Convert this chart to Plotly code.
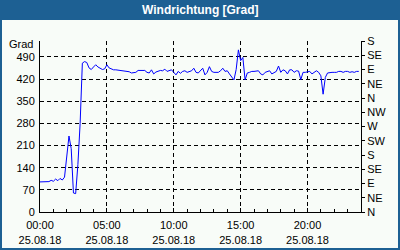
import plotly.graph_objects as go
import pandas as pd

title = "Windrichtung [Grad]"
start = "2018-08-25 00:00"
values = [
    95, 95, 94, 94, 96, 100, 97, 104, 99, 106, 101, 110, 175, 240, 200, 60, 58, 150, 280, 470,
    475, 472, 455, 450, 458, 465, 458, 455, 450, 452, 465, 455, 451, 449, 449, 448, 447, 446, 444, 444,
    443, 439, 441, 441, 447, 447, 446, 447, 441, 439, 449, 436, 442, 444, 447, 446, 451, 444, 446, 449,
    441, 433, 444, 438, 444, 446, 441, 444, 446, 454, 441, 439, 446, 454, 433, 441, 459, 444, 441, 440,
    441, 446, 454, 444, 446, 436, 428, 417, 450, 512, 478, 488, 417, 439, 441, 444, 444, 444, 446, 436,
    433, 441, 444, 446, 436, 441, 444, 461, 441, 449, 446, 436, 449, 449, 441, 446, 445, 418, 441, 441,
    443, 444, 436, 441, 446, 441, 430, 372, 425, 439, 441, 441, 441, 441, 444, 444, 441, 444, 444, 441,
    443, 441, 444, 444,
]
times = pd.date_range(start, periods=len(values), freq="10min")

left_ticks = [0, 70, 140, 210, 280, 350, 420, 490]
right_ticks = [0, 45, 90, 135, 180, 225, 270, 315, 360, 405, 450, 495, 540]
right_labels = ["N", "NE", "E", "SE", "S", "SW", "W", "NW", "N", "NE", "E", "SE", "S"]
x_tick_hours = [0, 5, 10, 15, 20]
x_tick_labels = [f"{h:02d}:00<br>25.08.18" for h in x_tick_hours]

BLUE = "#1d6093"
BG = "#f8fcf8"
FONT = "Liberation Sans"

fig = go.Figure()
fig.add_trace(go.Scatter(x=times, y=values, mode="lines",
                         line=dict(color="#0000ff", width=1), showlegend=False))
fig.add_trace(go.Scatter(x=[times[0]], y=[0], yaxis="y2", mode="markers",
                         marker=dict(opacity=0), showlegend=False, hoverinfo="skip"))

x0 = pd.Timestamp(start)
fig.update_layout(
    width=400, height=250,
    margin=dict(l=40, r=39, t=41, b=38),
    paper_bgcolor=BG, plot_bgcolor=BG,
    font=dict(family=FONT, size=11, color="black"),
    xaxis=dict(
        type="date",
        range=[x0, x0 + pd.Timedelta(hours=24)],
        tickvals=[x0 + pd.Timedelta(hours=h) for h in x_tick_hours],
        ticktext=x_tick_labels,
        ticks="inside", ticklen=4, tickcolor="black",
        showline=True, linecolor="black", linewidth=1,
        showgrid=True, gridcolor="black", griddash="4px,3px", gridwidth=1,
        minor=dict(dtick=3600000, ticks="inside", ticklen=3, tickcolor="black", showgrid=False),
        zeroline=False, ticklabelstandoff=3, automargin=False,
    ),
    yaxis=dict(
        range=[0, 540], tickvals=left_ticks,
        ticks="", showline=True, linecolor="black", linewidth=1,
        showgrid=True, gridcolor="black", griddash="4px,3px", gridwidth=1,
        zeroline=False, ticklabelstandoff=2, automargin=False,
    ),
    yaxis2=dict(
        range=[0, 540], tickvals=right_ticks, ticktext=right_labels,
        overlaying="y", side="right", anchor="x",
        ticks="outside", ticklen=3, tickcolor="black",
        showline=True, linecolor="black", linewidth=1,
        showgrid=False, zeroline=False, ticklabelstandoff=0, automargin=False,
    ),
    shapes=[
        dict(type="rect", xref="paper", yref="paper",
             x0=-40/321, x1=360/321, y0=(212-20)/171, y1=212/171,
             fillcolor=BLUE, line=dict(width=0), layer="below"),
        dict(type="rect", xref="paper", yref="paper",
             x0=-39/321, x1=359/321, y0=-37/171, y1=211/171,
             fillcolor="rgba(0,0,0,0)", line=dict(color=BLUE, width=2)),
    ],
    annotations=[
        dict(text="<b>" + title + "</b>", xref="paper", yref="paper",
             x=(200-40)/321, y=(212-10)/171, xanchor="center", yanchor="middle",
             showarrow=False, font=dict(color="white", size=12, family=FONT)),
        dict(text="Grad", xref="paper", yref="paper",
             x=-5/321, y=(212-44)/171, xanchor="right", yanchor="middle",
             showarrow=False, font=dict(size=11, family=FONT)),
    ],
)

fig.write_html("out.html")
